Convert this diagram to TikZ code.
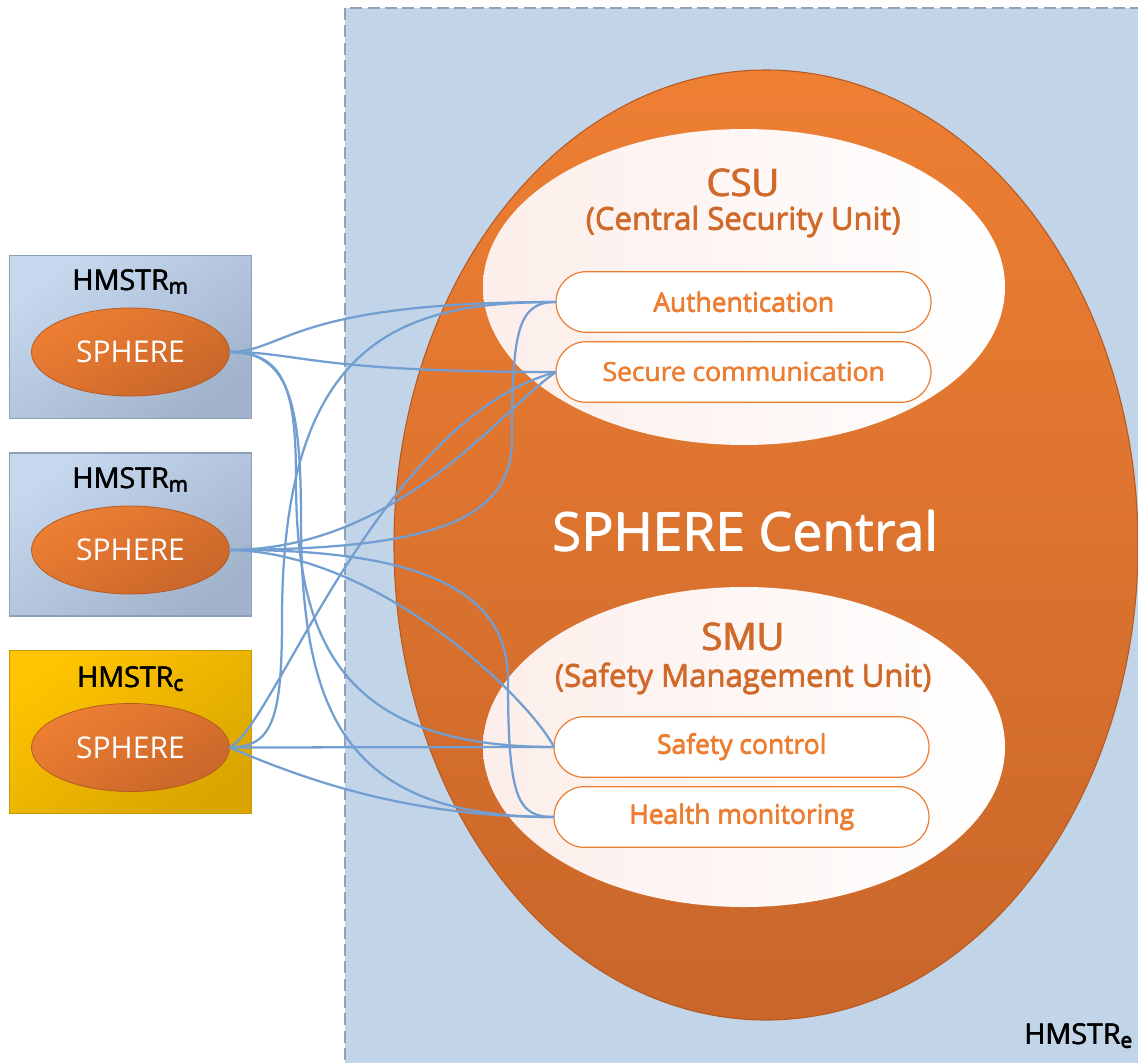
\documentclass[tikz,border=0pt]{standalone}
\usepackage{fontspec}
\setmainfont{Open Sans}
\usetikzlibrary{shapes.geometric,shapes.misc}

\definecolor{zoneblue}{HTML}{C2D4E8}
\definecolor{zoneedge}{HTML}{8FA2B8}
\definecolor{orangetop}{HTML}{EE7F33}
\definecolor{orangebot}{HTML}{C9662A}
\definecolor{orangeedge}{HTML}{B65A22}
\definecolor{unittext}{HTML}{D06A2B}
\definecolor{pilltext}{HTML}{ED7D31}
\definecolor{boxtop}{HTML}{C6D8EE}
\definecolor{boxbot}{HTML}{A0B3CB}
\definecolor{boxedge}{HTML}{8CA0B8}
\definecolor{yeltop}{HTML}{FFC300}
\definecolor{yelbot}{HTML}{D9A600}
\definecolor{yeledge}{HTML}{C69C00}
\definecolor{wire}{HTML}{739ED1}
\definecolor{blush}{HTML}{FCEEEA}

% semibold look: the text set three times with tiny offsets
\newcommand{\heavy}[1]{\leavevmode\rlap{\kern0.5pt#1}\rlap{\raisebox{0.35pt}{\kern0.25pt#1}}#1}
\newcommand{\lowidx}[1]{\raisebox{-2.5pt}{\fontsize{15.5}{15.5}\selectfont #1}}

\tikzset{
  hostbox/.style={rectangle, draw=boxedge, line width=0.8pt,
    top color=boxtop, bottom color=boxbot, shading angle=35,
    minimum width=181.5pt, minimum height=122.25pt, inner sep=0pt, outer sep=0pt},
  corebox/.style={hostbox, draw=yeledge, top color=yeltop, bottom color=yelbot, shading angle=35},
  sphere/.style={ellipse, draw=orangeedge, line width=0.6pt,
    top color=orangetop, bottom color=orangebot, shading angle=30,
    minimum width=148.5pt, minimum height=66pt, inner sep=0pt, outer sep=0pt,
    text=white, font=\fontsize{22.5}{26}\selectfont},
  hostlabel/.style={font=\fontsize{21.5}{25}\selectfont, text=black, inner sep=0pt},
  unit/.style={ellipse, left color=blush, right color=white, draw=none,
    minimum width=391.5pt, inner sep=0pt, outer sep=0pt},
  unittitle/.style={font=\fontsize{28.5}{32}\selectfont, text=unittext, inner sep=0pt},
  unitsub/.style={font=\fontsize{23.3}{27}\selectfont, text=unittext, inner sep=0pt},
  pill/.style={rounded rectangle, draw=pilltext, line width=0.9pt, fill=white,
    minimum width=281.25pt, minimum height=45.5pt, inner sep=0pt, outer sep=0pt,
    text=pilltext, font=\fontsize{19.8}{23}\selectfont},
  conn/.style={draw=wire, line width=1.7pt},
}

\begin{document}
\begin{tikzpicture}[x=0.75pt, y=-0.75pt]
  \useasboundingbox (0,0) rectangle (1138,1063);

  % HMSTR_e zone
  \path[fill=zoneblue, draw=zoneedge, line width=1.1pt, dash pattern=on 9pt off 4pt]
    (345,8) rectangle (1150,1075);
  \node[hostlabel] (hmstre) at (1078,1036) {\heavy{HMSTR\lowidx{e}}};

  % SPHERE Central and its units
  \node[ellipse, draw=orangeedge, line width=0.8pt, top color=orangetop, bottom color=orangebot,
        minimum width=558pt, minimum height=712.5pt, inner sep=0pt] (central) at (766,545) {};
  \node[unit, minimum height=237pt] (csu) at (744,287) {};
  \node[unit, minimum height=240pt] (smu) at (744,747) {};

  \node[font=\fontsize{40}{46}\selectfont, text=white, inner sep=0pt] (centraltitle) at (745,531) {\heavy{SPHERE Central}};

  \node[unittitle] (csutitle) at (743,183) {\heavy{CSU}};
  \node[unitsub] (csusub) at (743,222) {\heavy{(Central Security Unit)}};
  \node[unittitle] (smutitle) at (743,637) {\heavy{SMU}};
  \node[unitsub] (smusub) at (743,679) {\heavy{(Safety Management Unit)}};

  \node[pill] (auth)   at (743.5,302) {\heavy{Authentication}};
  \node[pill] (comm)   at (743.5,372) {\heavy{Secure communication}};
  \node[pill] (safety) at (741.5,747) {\heavy{Safety control}};
  \node[pill] (health) at (741.5,817) {\heavy{Health monitoring}};

  % hosts
  \node[hostbox] (host1) at (130.5,337) {};
  \node[hostbox] (host2) at (130.5,534.5) {};
  \node[corebox] (host3) at (130.5,732) {};
  \node[hostlabel] (lab1) at (130,282) {\heavy{HMSTR\lowidx{m}}};
  \node[hostlabel] (lab2) at (130,480) {\heavy{HMSTR\lowidx{m}}};
  \node[hostlabel] (lab3) at (130,679) {\heavy{HMSTR\lowidx{c}}};
  \node[sphere] (s1) at (130.5,352) {SPHERE};
  \node[sphere] (s2) at (130.5,550) {SPHERE};
  \node[sphere] (s3) at (130.5,747.5) {SPHERE};

  % links from the first host
  \draw[conn] (s1.east) .. controls (285,352) and (290,302) .. (auth.west);
  \draw[conn] (s1.east) .. controls (300,352) and (310,372) .. (comm.west);
  \draw[conn] (s1.east) .. controls (285,352) and (296,390) .. (296,480)
                        .. controls (296,640) and (340,747) .. (safety.west);
  \draw[conn] (s1.east) .. controls (288,352) and (301,400) .. (301,520)
                        .. controls (301,720) and (350,817) .. (health.west);

  % links from the second host
  \draw[conn] (s2.east) .. controls (420,549) and (512,525) .. (512,440)
                        .. controls (512,330) and (518,302) .. (auth.west);
  \draw[conn] (s2.east) .. controls (400,549) and (500,410) .. (comm.west);
  \draw[conn] (s2.east) .. controls (380,552) and (530,700) .. (safety.west);
  \draw[conn] (s2.east) .. controls (420,549) and (508,590) .. (508,680)
                        .. controls (508,800) and (518,817) .. (health.west);

  % links from the core host
  \draw[conn] (s3.east) .. controls (272,747) and (282,720) .. (282,620)
                        .. controls (282,340) and (400,302) .. (auth.west);
  \draw[conn] (s3.east) .. controls (275,725) and (380,420) .. (comm.west);
  \draw[conn] (s3.east) -- (safety.west);
  \draw[conn] (s3.east) .. controls (295,775) and (400,817) .. (health.west);
\end{tikzpicture}
\end{document}
